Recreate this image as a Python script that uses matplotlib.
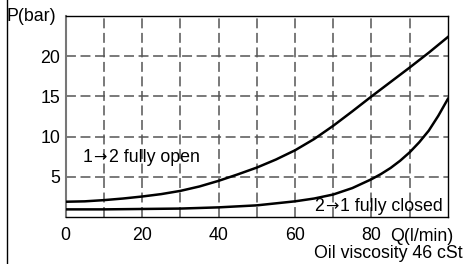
import matplotlib
matplotlib.use("Agg")
import matplotlib.pyplot as plt
from matplotlib.lines import Line2D

FS = 12.8
plt.rcParams["font.family"] = ["Liberation Sans", "DejaVu Sans"]
plt.rcParams["font.size"] = FS

# 流量 Q (l/min) 与压降 P (bar)
q_open = [0, 5, 10, 15, 20, 25, 30, 35, 40, 45, 50, 55, 60, 65, 70, 75, 80, 85, 90, 95, 100]
p_open = [1.90, 1.95, 2.10, 2.30, 2.55, 2.85, 3.25, 3.80, 4.50, 5.30, 6.15, 7.15,
          8.30, 9.70, 11.35, 13.15, 15.0, 16.8, 18.6, 20.45, 22.4]
q_closed = [0, 10, 20, 30, 40, 50, 60, 65, 70, 75, 80, 82.5, 85, 87.5, 90, 92.5, 95, 97.5, 100]
p_closed = [0.95, 0.95, 1.0, 1.05, 1.2, 1.45, 1.95, 2.3, 2.8, 3.6, 4.7, 5.35, 6.1,
            7.0, 8.05, 9.3, 10.75, 12.6, 14.7]

x_ticks = [0, 20, 40, 60, 80]
y_ticks = [5, 10, 15, 20]
label_open = ("1", "\u2192", "2 fully open")
label_closed = ("2", "\u2192", "1 fully closed")

fig = plt.figure(figsize=(4.69, 2.64), dpi=100)
ax = fig.add_axes([0.140, 0.178, 0.815, 0.761])

# 网格（虚线）
for x in range(10, 100, 10):
    ax.axvline(x, color="#555555", lw=1.1, ls=(0, (6.5, 3)), zorder=1)
for y in y_ticks:
    ax.axhline(y, color="#555555", lw=1.1, ls=(0, (6.5, 3)), zorder=1)

ax.plot(q_open, p_open, color="black", lw=1.8, zorder=3)
ax.plot(q_closed, p_closed, color="black", lw=1.8, zorder=3)


def arrow_label(x, y, parts):
    # 箭头用 DejaVu Sans 绘制，其余用 Liberation Sans，依次拼接
    t1 = ax.text(x, y, parts[0], ha="left", va="bottom", fontsize=FS, zorder=4)
    t2 = ax.annotate(parts[1], xy=(1, 0.5), xycoords=t1, xytext=(0.5, 0),
                     textcoords="offset points", ha="left", va="center",
                     fontsize=FS * 0.9, family="DejaVu Sans", zorder=4)
    t3 = ax.annotate(parts[2], xy=(1, 0), xycoords=(t2, t1), xytext=(1.5, 0),
                     textcoords="offset points", ha="left", va="bottom",
                     fontsize=FS, zorder=4)
    return t1, t2, t3


arrow_label(4.4, 6.3, label_open)
arrow_label(65.0, 0.3, label_closed)

ax.set_xlim(0, 100)
ax.set_ylim(0, 25)
ax.set_xticks(x_ticks)
ax.set_yticks(y_ticks)
ax.tick_params(length=0, labelsize=FS)
ax.tick_params(axis="x", pad=7)
ax.tick_params(axis="y", pad=4)

ax.spines["left"].set_color("#777777")
ax.spines["left"].set_linewidth(1.5)
for s in ["top", "right", "bottom"]:
    ax.spines[s].set_color("black")
    ax.spines[s].set_linewidth(1.0)

ax.text(-0.025, 1.0, "P(bar)", transform=ax.transAxes, ha="right", va="center", fontsize=FS)
ax.text(85, -0.055, "Q(l/min)", transform=ax.get_xaxis_transform(), ha="left", va="top", fontsize=FS)
fig.text(463 / 469, 1 - 254 / 264, "Oil viscosity 46 cSt", ha="right", va="center", fontsize=FS)

# 左侧竖线边框
fig.add_artist(Line2D([7 / 469, 7 / 469], [0, 1], color="black", lw=1.0, transform=fig.transFigure))

fig.savefig("out.png", dpi=100)
